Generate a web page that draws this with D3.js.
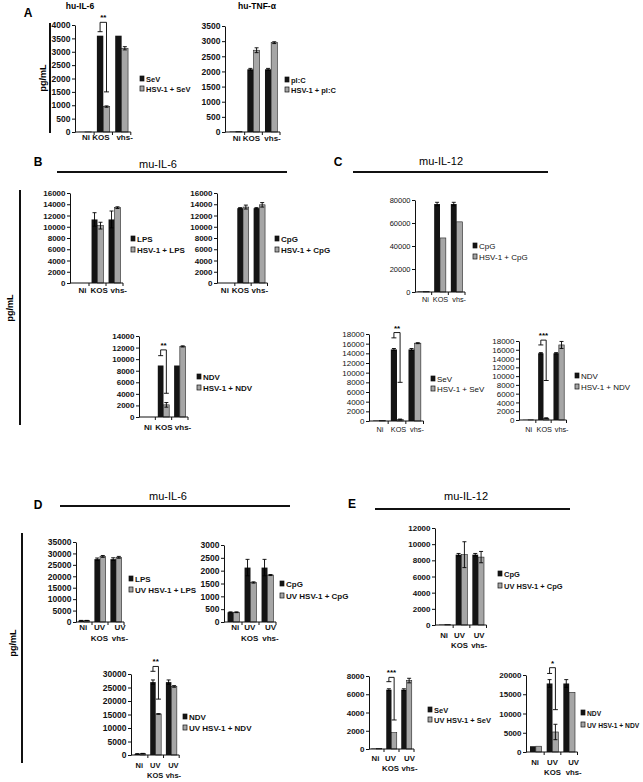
<!DOCTYPE html>
<html><head><meta charset="utf-8">
<script src="https://cdn.jsdelivr.net/npm/d3@7"></script>
<style>body{margin:0;background:#fff} svg{display:block}</style>
</head><body>
<svg id="fig" width="643" height="782"></svg>
<script>
// ---------- categories ----------
const catsHSV = [["Ni"], ["KOS"], ["vhs-"]];
const catsUV = [["Ni"], ["UV", "KOS"], ["UV", "vhs-"]];

// ---------- A: hu-IL-6 ----------
const a1Legend = ["SeV", "HSV-1 + SeV"];
const a1Black = [5, 3600, 3600];     const a1BlackErr = [0, 0, 0];
const a1Gray  = [5, 950, 3130];      const a1GrayErr  = [0, 25, 60];
const a1Bracket = [1, 4100, 3750, 1500, "**"]; // category, top, left bottom, right bottom, label
// ---------- A: hu-TNF-a ----------
const a2Legend = ["pI:C", "HSV-1 + pI:C"];
const a2Black = [15, 2070, 2070];    const a2BlackErr = [0, 30, 30];
const a2Gray  = [15, 2700, 2950];    const a2GrayErr  = [0, 80, 30];
// ---------- B: mu-IL-6 ----------
const b1Legend = ["LPS", "HSV-1 + LPS"];
const b1Black = [0, 11300, 11300];   const b1BlackErr = [0, 1200, 1500];
const b1Gray  = [0, 10200, 13400];   const b1GrayErr  = [0, 600, 150];
const b2Legend = ["CpG", "HSV-1 + CpG"];
const b2Black = [0, 13300, 13300];   const b2BlackErr = [0, 100, 100];
const b2Gray  = [0, 13500, 13900];   const b2GrayErr  = [0, 350, 400];
const b3Legend = ["NDV", "HSV-1 + NDV"];
const b3Black = [0, 8900, 8900];     const b3BlackErr = [0, 0, 0];
const b3Gray  = [0, 2100, 12200];    const b3GrayErr  = [0, 400, 100];
const b3Bracket = [1, 11600, 10600, 4100, "**"];
// ---------- C: mu-IL-12 ----------
const c1Legend = ["CpG", "HSV-1 + CpG"];
const c1Black = [500, 76500, 76500]; const c1BlackErr = [0, 1500, 1500];
const c1Gray  = [500, 47000, 61000]; const c1GrayErr  = [0, 0, 0];
const c2Legend = ["SeV", "HSV-1 + SeV"];
const c2Black = [100, 14800, 14800]; const c2BlackErr = [0, 200, 200];
const c2Gray  = [100, 300, 16100];   const c2GrayErr  = [0, 100, 100];
const c2Bracket = [1, 18300, 17200, 8000, "**"];
const c3Legend = ["NDV", "HSV-1 + NDV"];
const c3Black = [50, 15200, 15200];  const c3BlackErr = [0, 150, 150];
const c3Gray  = [50, 400, 17100];    const c3GrayErr  = [0, 100, 800];
const c3Bracket = [1, 18200, 17100, 9000, "***"];
// ---------- D: mu-IL-6 (UV) ----------
const d1Legend = ["LPS", "UV HSV-1 + LPS"];
const d1Black = [600, 27500, 27500]; const d1BlackErr = [100, 500, 600];
const d1Gray  = [600, 28700, 28300]; const d1GrayErr  = [100, 400, 400];
const d2Legend = ["CpG", "UV HSV-1 + CpG"];
const d2Black = [380, 2120, 2120];   const d2BlackErr = [15, 320, 320];
const d2Gray  = [380, 1540, 1830];   const d2GrayErr  = [15, 25, 20];
const d3Legend = ["NDV", "UV HSV-1 + NDV"];
const d3Black = [400, 27000, 27000]; const d3BlackErr = [100, 800, 800];
const d3Gray  = [500, 15200, 25400]; const d3GrayErr  = [100, 100, 300];
const d3Bracket = [1, 32800, 31000, 20700, "**"];
// ---------- E: mu-IL-12 (UV) ----------
const e1Legend = ["CpG", "UV HSV-1 + CpG"];
const e1Black = [50, 8700, 8700];    const e1BlackErr = [0, 150, 150];
const e1Gray  = [50, 8700, 8400];    const e1GrayErr  = [0, 1600, 700];
const e2Legend = ["SeV", "UV HSV-1 + SeV"];
const e2Black = [50, 6500, 6500];    const e2BlackErr = [0, 100, 100];
const e2Gray  = [50, 1800, 7500];    const e2GrayErr  = [0, 0, 250];
const e2Bracket = [1, 7850, 7380, 3180, "***"];
const e3Legend = ["NDV", "UV HSV-1 + NDV"];
const e3Black = [1500, 17800, 17800]; const e3BlackErr = [0, 1000, 1000];
const e3Gray  = [1500, 5200, 15500];  const e3GrayErr  = [0, 2000, 0];
const e3Bracket = [1, 21900, 20400, 11000, "*"];

// ---------- axis limits ----------
const yMaxes = {a1: 4000, a2: 3500, b1: 16000, b2: 16000, b3: 14000, c1: 80000, c2: 18000, c3: 18000,
                d1: 35000, d2: 3000, d3: 30000, e1: 12000, e2: 8000, e3: 20000};
const ySteps = {a1: 500, a2: 500, b1: 2000, b2: 2000, b3: 2000, c1: 20000, c2: 2000, c3: 2000,
                d1: 5000, d2: 500, d3: 5000, e1: 2000, e2: 2000, e3: 5000};

// ---------- layout (positions only) ----------
const FONT = "'Liberation Sans', Arial, sans-serif";
const charts = [
  {k:"a1", cats:catsHSV, leg:a1Legend, blk:a1Black, bErr:a1BlackErr, gry:a1Gray, gErr:a1GrayErr, br:a1Bracket,
   x0:75, x1:130, bs:0.8, yTop:25, yBot:132, lx:142, ly:79, ldy:10, lfs:7.5, lab:[140], ldx:[1,-2.5,3], fs:8.5, xfs:8},
  {k:"a2", cats:catsHSV, leg:a2Legend, blk:a2Black, bErr:a2BlackErr, gry:a2Gray, gErr:a2GrayErr,
   x0:225, x1:278, bs:2, yTop:26, yBot:132, lx:287, ly:80, ldy:10, lfs:7.5, lab:[141], ldx:[1,-2.2,1.4], fs:8.5, xfs:8},
  {k:"b1", cats:catsHSV, leg:b1Legend, blk:b1Black, bErr:b1BlackErr, gry:b1Gray, gErr:b1GrayErr,
   x0:70, x1:121, bs:2, yTop:193, yBot:283, lx:133, ly:239, ldy:11, lfs:8, lab:[293], ldx:[2,1.7,4.3], fs:8, xfs:8},
  {k:"b2", cats:catsHSV, leg:b2Legend, blk:b2Black, bErr:b2BlackErr, gry:b2Gray, gErr:b2GrayErr,
   x0:217, x1:266, bs:1.5, yTop:193, yBot:283, lx:277, ly:239, ldy:11, lfs:8, lab:[293], ldx:[-1.8,-2.5,0.5], fs:8, xfs:8},
  {k:"b3", cats:catsHSV, leg:b3Legend, blk:b3Black, bErr:b3BlackErr, gry:b3Gray, gErr:b3GrayErr, br:b3Bracket,
   x0:139, x1:188, bs:0, yTop:336, yBot:417, lx:199, ly:377, ldy:11, lfs:8, lab:[430], ldx:[0.8,0.5,3.2], fs:8, xfs:8},
  {k:"c1", cats:catsHSV, leg:c1Legend, blk:c1Black, bErr:c1BlackErr, gry:c1Gray, gErr:c1GrayErr,
   x0:415, x1:465, bs:0, yTop:200, yBot:292, lx:475, ly:246, ldy:11, lfs:8, lab:[302], ldx:[2,0.5,2.5], fs:7.5, xfs:7.3, light:true},
  {k:"c2", cats:catsHSV, leg:c2Legend, blk:c2Black, bErr:c2BlackErr, gry:c2Gray, gErr:c2GrayErr, br:c2Bracket,
   x0:369, x1:422, bs:1.5, yTop:334, yBot:421, lx:433, ly:379, ldy:10, lfs:8, lab:[432], ldx:[0.7,1.5,2.3], fs:8, xfs:7.3, light:true},
  {k:"c3", cats:catsHSV, leg:c3Legend, blk:c3Black, bErr:c3BlackErr, gry:c3Gray, gErr:c3GrayErr, br:c3Bracket,
   x0:519, x1:565, bs:1.5, yTop:341, yBot:420, lx:577, ly:376, ldy:11, lfs:8, lab:[432], ldx:[0.6,0.8,2.8], fs:8, xfs:7.3, light:true},
  {k:"d1", cats:catsUV, leg:d1Legend, blk:d1Black, bErr:d1BlackErr, gry:d1Gray, gErr:d1GrayErr,
   x0:76, x1:124, bs:0, yTop:542, yBot:622, lx:131, ly:579, ldy:11, lfs:8, lab:[630, 641], ldx:[-0.7,-0.5,4], fs:8.5, xfs:8},
  {k:"d2", cats:catsUV, leg:d2Legend, blk:d2Black, bErr:d2BlackErr, gry:d2Gray, gErr:d2GrayErr,
   x0:224, x1:275, bs:1, yTop:545, yBot:622, lx:282, ly:584, ldy:12, lfs:8, lab:[630, 641], ldx:[1.7,-0.8,3], fs:8.5, xfs:8},
  {k:"d3", cats:catsUV, leg:d3Legend, blk:d3Black, bErr:d3BlackErr, gry:d3Gray, gErr:d3GrayErr, br:d3Bracket,
   x0:131, x1:178, bs:1.2, yTop:674, yBot:755, lx:185, ly:717, ldy:11, lfs:8, lab:[768, 778], ldx:[-0.8,-0.5,2], fs:8.5, xfs:7.5},
  {k:"e1", cats:catsUV, leg:e1Legend, blk:e1Black, bErr:e1BlackErr, gry:e1Gray, gErr:e1GrayErr,
   x0:435, x1:485, bs:1.5, yTop:528, yBot:625, lx:500, ly:574, ldy:12, lfs:7.5, lab:[638, 648], ldx:[-0.8,-2,1], fs:8, xfs:7.8},
  {k:"e2", cats:catsUV, leg:e2Legend, blk:e2Black, bErr:e2BlackErr, gry:e2Gray, gErr:e2GrayErr, br:e2Bracket,
   x0:369, x1:414, bs:0, yTop:676, yBot:749, lx:430, ly:710, ldy:10, lfs:7.5, lab:[761, 771], ldx:[-1,-1,3], fs:8, xfs:7.8},
  {k:"e3", cats:catsUV, leg:e3Legend, blk:e3Black, bErr:e3BlackErr, gry:e3Gray, gErr:e3GrayErr, br:e3Bracket,
   x0:526, x1:576, bs:1.5, yTop:675, yBot:752, lx:583, ly:713, ldy:12, lfs:6.7, lab:[765, 775], ldx:[-0.8,0,4.5], fs:8, xfs:7.8}
];

const svg = d3.select("#fig").style("font-family", FONT);
const fmt = d3.format("d");

function drawChart(c) {
  const g = svg.append("g");
  const n = c.cats.length;
  const x = d3.scaleBand().domain(d3.range(n)).range([c.x0 + c.bs, c.x1 + c.bs]).paddingInner(0.3).paddingOuter(0.15);
  const xs = d3.scaleBand().domain([0, 1]).range([0, x.bandwidth()]);
  const y = d3.scaleLinear().domain([0, yMaxes[c.k]]).range([c.yBot, c.yTop]);
  const series = [{v: c.blk, e: c.bErr, fill: "#141414"}, {v: c.gry, e: c.gErr, fill: "#a6a6a6"}];

  series.forEach((s, si) => {
    g.selectAll(null).data(s.v).enter().append("rect")
      .attr("x", (d, i) => x(i) + xs(si))
      .attr("width", xs.bandwidth())
      .attr("y", d => y(d))
      .attr("height", d => c.yBot - y(d))
      .attr("fill", s.fill)
      .attr("stroke", "#222").attr("stroke-width", si ? 0.6 : 0);
  });
  // error bars
  series.forEach((s, si) => {
    s.v.forEach((d, i) => {
      const e = s.e[i];
      if (!e) return;
      const cx = x(i) + xs(si) + xs.bandwidth() / 2;
      g.append("line").attr("x1", cx).attr("x2", cx).attr("y1", y(d - e)).attr("y2", y(d + e))
        .attr("stroke", "#000").attr("stroke-width", 0.9);
      [d - e, d + e].forEach(v => g.append("line").attr("x1", cx - 2).attr("x2", cx + 2)
        .attr("y1", y(v)).attr("y2", y(v)).attr("stroke", "#000").attr("stroke-width", 0.9));
    });
  });
  // significance bracket
  if (c.br) {
    const [ci, top, lb, rb, lbl] = c.br;
    const xl = x(ci) + xs(0) + xs.bandwidth() / 2;
    const xr = x(ci) + xs(1) + xs.bandwidth() / 2;
    g.append("path")
      .attr("d", `M${xl},${y(lb)}V${y(top)}H${xr}V${y(rb)}`)
      .attr("fill", "none").attr("stroke", "#000").attr("stroke-width", 0.9);
    [[xl, lb], [xr, rb]].forEach(([px, v]) => g.append("line").attr("x1", px - 2.5).attr("x2", px + 2.5)
      .attr("y1", y(v)).attr("y2", y(v)).attr("stroke", "#000").attr("stroke-width", 0.9));
    g.append("text").attr("x", (xl + xr) / 2).attr("y", y(top) - 2).attr("text-anchor", "middle")
      .attr("font-size", 8).attr("font-weight", "bold").text(lbl);
  }
  // y axis
  const ax = g.append("g").attr("transform", `translate(${c.x0},0)`)
    .call(d3.axisLeft(y).tickValues(d3.range(0, yMaxes[c.k] + 1, ySteps[c.k])).tickFormat(fmt)
      .tickSize(3).tickPadding(1.5).tickSizeOuter(0));
  ax.selectAll("text").attr("font-size", c.fs).attr("font-family", FONT)
    .attr("font-weight", c.light ? "normal" : "bold").attr("fill", "#111");
  ax.selectAll("line").attr("stroke", "#111");
  ax.select(".domain").attr("stroke", "#111");
  // x axis
  const xa = g.append("g").attr("transform", `translate(0,${c.yBot})`)
    .call(d3.axisBottom(x).tickSize(0).tickFormat(""));
  xa.select(".domain").attr("d", `M${c.x0},0H${c.x1 + c.bs}`).attr("stroke", "#111");
  d3.range(1, n + 1).forEach(i => {
    const bx = x(i - 1) + x.bandwidth() + x.step() * x.paddingInner() / 2;
    g.append("line").attr("x1", bx).attr("x2", bx).attr("y1", c.yBot).attr("y2", c.yBot + 3).attr("stroke", "#111");
  });
  // category labels
  c.cats.forEach((lines, i) => {
    lines.forEach((t, li) => {
      g.append("text").attr("x", x(i) + x.bandwidth() / 2 + c.ldx[i]).attr("y", c.lab[li])
        .attr("text-anchor", "middle").attr("font-size", c.xfs)
        .attr("font-weight", c.light ? "normal" : "bold").attr("fill", "#111").text(t);
    });
  });
  // legend
  c.leg.forEach((t, i) => {
    const ly = c.ly + i * c.ldy;
    g.append("rect").attr("x", c.lx - 2).attr("y", ly - 3).attr("width", 4).attr("height", 5)
      .attr("fill", i ? "#a6a6a6" : "#141414").attr("stroke", "#111").attr("stroke-width", 0.7);
    g.append("text").attr("x", c.lx + 4).attr("y", ly + 3).attr("font-size", c.lfs)
      .attr("font-weight", c.light ? "normal" : "bold").attr("fill", "#111").text(t);
  });
}
charts.forEach(drawChart);

// ---------- panel decorations ----------
const panelLetters = [["A", 28, 17], ["B", 38, 166], ["C", 338, 166], ["D", 38, 509], ["E", 352, 508]];
panelLetters.forEach(([t, px, py]) => svg.append("text").attr("x", px).attr("y", py)
  .attr("font-size", 12).attr("font-weight", "bold").attr("text-anchor", "middle").text(t));

const smallTitles = [["hu-IL-6", 80, 9], ["hu-TNF-\u03b1", 257, 9]];
smallTitles.forEach(([t, px, py]) => svg.append("text").attr("x", px).attr("y", py)
  .attr("font-size", 8.5).attr("font-weight", "bold").attr("text-anchor", "middle").text(t));

const sectionTitles = [["mu-IL-6", 158, 168, 57, 287, 172], ["mu-IL-12", 441, 165, 353, 548, 172],
                       ["mu-IL-6", 168, 500, 60, 290, 506], ["mu-IL-12", 466, 500, 375, 570, 509]];
sectionTitles.forEach(([t, tx, ty, lx0, lx1, ly]) => {
  svg.append("text").attr("x", tx).attr("y", ty).attr("font-size", 11).attr("text-anchor", "middle").text(t);
  svg.append("line").attr("x1", lx0).attr("x2", lx1).attr("y1", ly).attr("y2", ly)
    .attr("stroke", "#111").attr("stroke-width", 2);
});

const unitBars = [[43, 78, 50, 23, 133], [10, 308, 20, 190, 425], [13, 643, 22, 533, 763]];
unitBars.forEach(([tx, ty, bx, by0, by1]) => {
  svg.append("text").attr("transform", `translate(${tx + 3},${ty}) rotate(-90)`)
    .attr("font-size", 9).attr("font-weight", "bold").attr("text-anchor", "middle").text("pg/mL");
  svg.append("line").attr("x1", bx).attr("x2", bx).attr("y1", by0).attr("y2", by1)
    .attr("stroke", "#111").attr("stroke-width", 2);
});
</script>
</body></html>
